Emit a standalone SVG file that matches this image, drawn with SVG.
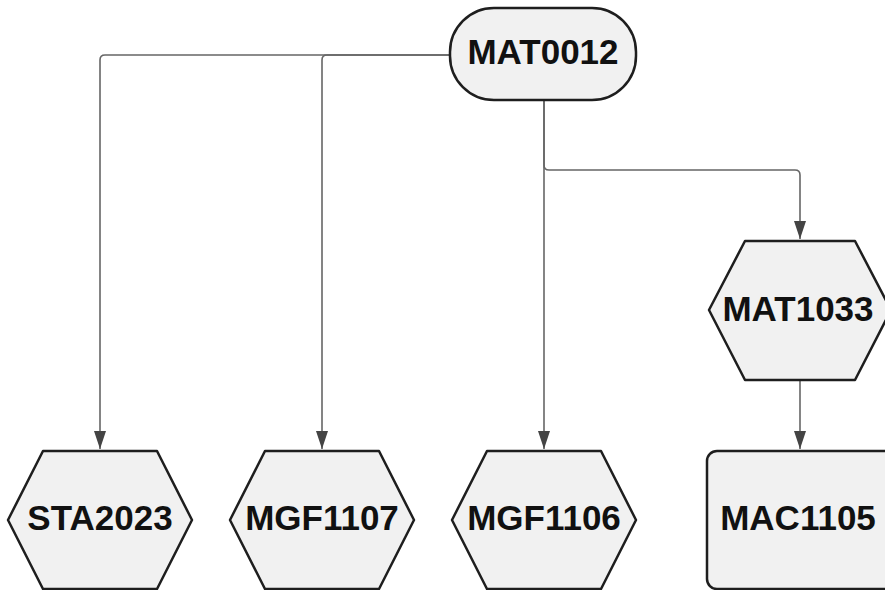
<svg xmlns="http://www.w3.org/2000/svg" width="885" height="590" viewBox="0 0 885 590">
  <defs>
    <style>
      .node { fill: #f1f1f1; stroke: #1e1e1e; stroke-width: 2.5; stroke-linejoin: round; }
      .label { font-family: "Liberation Sans", Arial, sans-serif; font-weight: bold; font-size: 35px; fill: #111; text-anchor: middle; }
      .edge { fill: none; stroke: #666; stroke-width: 1.6; }
    </style>
    <marker id="arr" viewBox="0 0 18 12" refX="18" refY="6" markerWidth="18" markerHeight="12" markerUnits="userSpaceOnUse" orient="auto">
      <path d="M0,0 L18,6 L0,12 Z" fill="#444"/>
    </marker>
  </defs>
  <rect width="885" height="590" fill="#ffffff"/>
  <g id="connectors">
    <path class="edge" d="M450,55 H105 Q100,55 100,60 V449" marker-end="url(#arr)"/>
    <path class="edge" d="M450,55 H327 Q322,55 322,60 V449" marker-end="url(#arr)"/>
    <path class="edge" d="M544,100 V449" marker-end="url(#arr)"/>
    <path class="edge" d="M544,100 V165 Q544,170 549,170 H795 Q800,170 800,175 V239" marker-end="url(#arr)"/>
    <path class="edge" d="M800,380 V449" marker-end="url(#arr)"/>
  </g>
  <g id="MAT0012">
    <rect class="node" x="450" y="8" width="186" height="92" rx="44" ry="44"/>
    <text class="label" x="543" y="64">MAT0012</text>
  </g>
  <g id="MAT1033">
    <polygon class="node" points="709,310 745,241 855,241 891,310 855,380 745,380"/>
    <text class="label" x="798" y="321">MAT1033</text>
  </g>
  <g id="STA2023">
    <polygon class="node" points="8,520 43,451 157,451 192,520 157,589 43,589"/>
    <text class="label" x="100" y="530">STA2023</text>
  </g>
  <g id="MGF1107">
    <polygon class="node" points="230,520 265,451 379,451 414,520 379,589 265,589"/>
    <text class="label" x="322" y="530">MGF1107</text>
  </g>
  <g id="MGF1106">
    <polygon class="node" points="452,520 487,451 601,451 636,520 601,589 487,589"/>
    <text class="label" x="544" y="530">MGF1106</text>
  </g>
  <g id="MAC1105">
    <rect class="node" x="707" y="451" width="190" height="138" rx="10" ry="10"/>
    <text class="label" x="798" y="530">MAC1105</text>
  </g>
</svg>
